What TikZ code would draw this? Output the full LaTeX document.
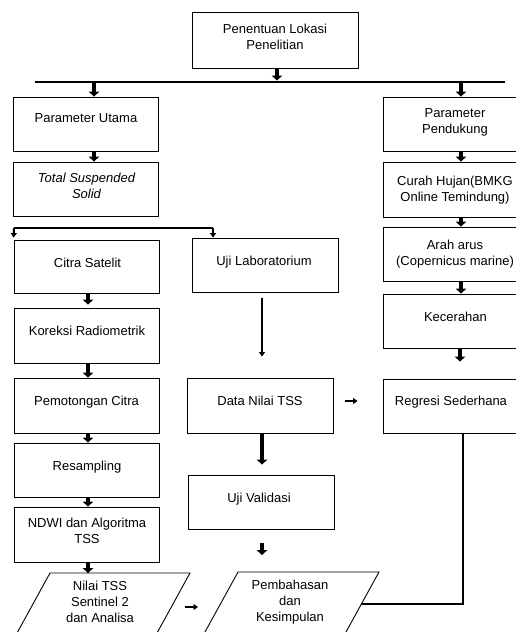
\documentclass[tikz,border=0pt]{standalone}
\usepackage{fontspec}
\setmainfont{Liberation Sans}
\usetikzlibrary{arrows.meta,calc}
\begin{document}
\begin{tikzpicture}[x=1pt,y=-1pt,
  box/.style={draw=black,line width=0.9pt,minimum width=145pt,minimum height=54pt,inner sep=0pt},
  txt/.style={align=center,inner sep=0pt,text height=9pt,text depth=0pt,font=\fontsize{13}{16}\selectfont},
  fat/.style={line width=3.8pt,-{Triangle[width=10.5pt,length=5pt]}},
  slim/.style={line width=2pt,-{Triangle[width=6pt,length=4.5pt]}},
  bar/.style={line width=1.5pt},
  shape line/.style={line width=0.9pt}]
\useasboundingbox[fill=white] (0,0) rectangle (516,632);

% boxes
\node[box,minimum width=166pt,minimum height=56pt] (top) at (275,40) {};
\node[box] (pu) at (85.5,124) {};
\node[box] (tss) at (85.5,189) {};
\node[box] (pp) at (455.5,124) {};
\node[box,minimum height=55pt] (ch) at (455.5,189.5) {};
\node[box] (aa) at (455.5,254) {};
\node[box] (kc) at (455.5,321) {};
\node[box] (rs) at (455.5,406) {};
\node[box,minimum height=53pt] (cs) at (86.5,266.5) {};
\node[box,minimum height=55pt] (kr) at (86.5,335.5) {};
\node[box,minimum height=55pt] (pc) at (86.5,405.5) {};
\node[box] (re) at (86.5,470) {};
\node[box,minimum height=55pt] (nd) at (86.5,534.5) {};
\node[box,minimum width=146pt] (ul) at (265,265) {};
\node[box,minimum width=146pt,minimum height=55pt] (dn) at (260,405.5) {};
\node[box,minimum width=146pt] (uv) at (261,502) {};

% parallelograms
\draw[shape line] (50,573) -- (190,573) -- (153.2,640) -- (13.2,640) -- cycle;
\draw[shape line] (238,572) -- (379,572) -- (341.6,640) -- (200.6,640) -- cycle;
\coordinate (p1t) at (88,573);
\coordinate (p1r) at (171.3,607);
\coordinate (p2l) at (218.7,607);
\coordinate (p2t) at (262,572);
\coordinate (p2r) at (361.4,604);

% texts (multi-line nodes shifted by 8.5pt per extra line)
\node[txt] (top-t) at (275,44.5) {Penentuan Lokasi\\Penelitian};
\node[txt] (pu-t) at (86,118) {Parameter Utama};
\node[txt] (tss-t) at (86.5,194) {\itshape Total Suspended\\\itshape Solid};
\node[txt] (pp-t) at (455,129) {Parameter\\Pendukung};
\node[txt] (ch-t) at (455,196.5) {Curah Hujan(BMKG\\Online Temindung)};
\node[txt] (aa-t) at (455,260.5) {Arah arus\\(Copernicus marine)};
\node[txt] (kc-t) at (455.5,317) {Kecerahan};
\node[txt] (rs-t) at (451,401) {Regresi Sederhana};
\node[txt] (cs-t) at (87.5,263) {Citra Satelit};
\node[txt] (kr-t) at (87,331) {Koreksi Radiometrik};
\node[txt] (pc-t) at (86.5,401) {Pemotongan Citra};
\node[txt] (re-t) at (87,466) {Resampling};
\node[txt] (nd-t) at (87,538.5) {NDWI dan Algoritma\\TSS};
\node[txt] (ul-t) at (264,261) {Uji Laboratorium};
\node[txt] (dn-t) at (260,401) {Data Nilai TSS};
\node[txt] (uv-t) at (259,498) {Uji Validasi};
\node[txt] (p1-t) at (100,618) {Nilai TSS\\Sentinel 2\\dan Analisa};
\node[txt] (p2-t) at (290,617) {Pembahasan\\dan\\Kesimpulan};

% main bar
\coordinate (barL) at (35,82);
\coordinate (barR) at (505,82);
\draw[bar] (barL) -- (barR);
\draw[fat,shorten >=1.5pt] ([xshift=2pt]top.south) -- ([xshift=2pt]top.south |- barL);
\draw[fat] ([xshift=8.5pt]pu.north |- barL) -- ([xshift=8.5pt]pu.north);
\draw[fat] ([xshift=5.5pt]pp.north |- barL) -- ([xshift=5.5pt]pp.north);

% left column top
\draw[fat] ([xshift=8.5pt]pu.south) -- ([xshift=8.5pt]tss.north);

% right column
\draw[fat] ([xshift=5.5pt]pp.south) -- ([xshift=5.5pt]ch.north);
\draw[fat] ([xshift=5.5pt]ch.south) -- ([xshift=5.5pt]aa.north);
\draw[fat] ([xshift=5.5pt]aa.south) -- ([xshift=5.5pt]kc.north);
\draw[fat,shorten >=17pt] ([xshift=4.5pt]kc.south) -- ([xshift=4.5pt]rs.north);

% branch
\coordinate (brL) at (14,228);
\coordinate (brR) at (213,228);
\draw[bar] (brL) -- (brR);
\draw[slim,shorten >=2pt] (brL) -- (cs.north west);
\draw[slim] (brR) -- (brR |- ul.north);

% satellite column
\draw[fat,shorten >=3pt] ([xshift=1.5pt]cs.south) -- ([xshift=1.5pt]kr.north);
\draw[fat] ([xshift=1.5pt]kr.south) -- ([xshift=1.5pt]pc.north);
\draw[fat] ([xshift=1.5pt]pc.south) -- ([xshift=1.5pt]re.north);
\draw[fat] ([xshift=1.5pt]re.south) -- ([xshift=1.5pt]nd.north);
\draw[fat] ([xshift=1.5pt]nd.south) -- (p1t);

% middle column
\draw[slim,line width=2.2pt,shorten <=6pt,shorten >=21pt] ([xshift=-3pt]ul.south) -- ([xshift=2pt]dn.north);
\draw[fat,line width=3.2pt,shorten >=10pt] ([xshift=2pt]dn.south) -- ([xshift=1pt]uv.north);
\draw[fat,line width=3.2pt,shorten <=14pt,shorten >=17pt] ([xshift=1pt]uv.south) -- (p2t);

% horizontal small arrows
\draw[slim,line width=2.4pt,shorten <=12pt,shorten >=25pt] ([yshift=4.5pt]dn.east) -- ([yshift=4.5pt]dn.east -| rs.west);
\draw[slim,line width=2.4pt,shorten <=14pt,shorten >=20.7pt] (p1r) -- (p2l);

% regression to conclusion
\draw[bar,line width=1.3pt] ([xshift=7.5pt]rs.south) |- (p2r);
\end{tikzpicture}
\end{document}
